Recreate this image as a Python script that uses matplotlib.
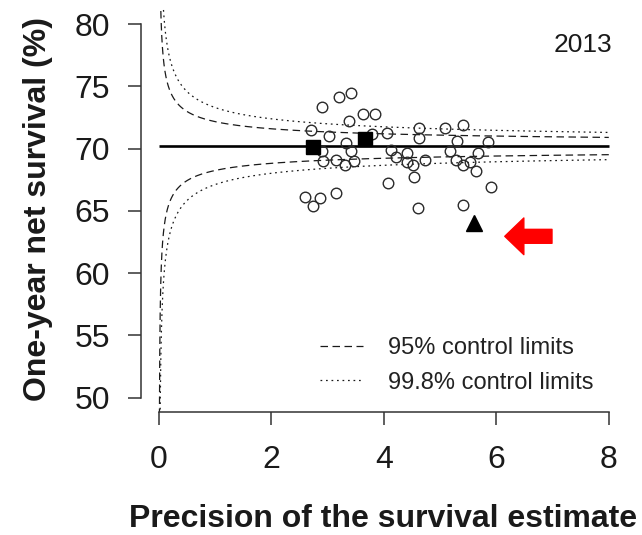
import matplotlib
matplotlib.use('Agg')
import matplotlib.pyplot as plt
import numpy as np

plt.rcParams['font.family'] = ['Liberation Sans', 'DejaVu Sans']

# open circles: precision vs one-year net survival (%)
precision = [2.71, 2.90, 3.03, 2.90, 2.91, 3.15, 3.21, 3.41, 3.38, 3.33, 3.41,
             3.30, 3.46, 3.62, 3.84, 3.79, 4.06, 4.12, 4.22, 4.41, 4.41, 4.51,
             4.73, 4.63, 4.62, 4.08, 4.54, 4.60, 5.09, 5.17, 5.30, 5.28, 5.41,
             5.41, 5.54, 5.68, 5.63, 5.85, 5.90, 5.41, 2.59, 2.74, 2.87, 3.14]
survival = [71.48, 73.33, 71.00, 69.80, 68.96, 69.04, 74.17, 74.50, 72.22, 70.45,
            69.78, 68.64, 68.97, 72.80, 72.80, 71.14, 71.26, 69.85, 69.31, 69.66,
            68.92, 68.70, 69.04, 71.63, 70.86, 67.21, 67.69, 65.26, 71.63, 69.78,
            70.60, 69.06, 71.90, 68.70, 68.94, 69.66, 68.20, 70.55, 66.95, 65.49,
            66.11, 65.35, 66.02, 66.45]

# highlighted units
square_x = [2.74, 3.67]
square_y = [70.15, 70.75]
triangle_x = [5.60]
triangle_y = [64.0]

target = 70.2
z95 = 1.96
z998 = 3.09

xticks = [0, 2, 4, 6, 8]
yticks = [50, 55, 60, 65, 70, 75, 80]

fig = plt.figure(figsize=(6.42, 5.35), dpi=100)
ax = fig.add_axes([0.2196, 0.229, 0.7567, 0.754])

grid = np.geomspace(0.003, xticks[-1], 3000)
ink = '#1a1a1a'

l95, = ax.plot(grid, target + z95 / np.sqrt(grid), color=ink, lw=0.9,
               linestyle=(0, (6, 3.6)), label='95% control limits')
ax.plot(grid, target - z95 / np.sqrt(grid), color=ink, lw=0.9,
        linestyle=(0, (6, 3.6)))
l998, = ax.plot(grid, target + z998 / np.sqrt(grid), color=ink, lw=0.9,
                linestyle=(0, (1.4, 3)), label='99.8% control limits')
ax.plot(grid, target - z998 / np.sqrt(grid), color=ink, lw=0.9,
        linestyle=(0, (1.4, 3)))

ax.hlines(target, xticks[0], xticks[-1], color='black', lw=1.9, zorder=3)

ax.plot(precision, survival, 'o', ms=7.6, mfc='none', mec='#2a2a2a', mew=1.0, zorder=4)
ax.plot(square_x, square_y, 's', ms=9.5, color='black', zorder=5)
ax.plot(triangle_x, triangle_y, '^', ms=11, color='black', zorder=5)

# red arrow pointing at the outlier
ax.annotate('', xy=(6.15, 62.95), xytext=(6.99, 62.95),
            arrowprops=dict(arrowstyle='simple,head_length=0.52,head_width=1.0,tail_width=0.38',
                            color='red', mutation_scale=26.4, shrinkA=0, shrinkB=0))

ax.text(8.07, 78.34, '2013', ha='right', va='center', fontsize=19, color=ink)

ax.set_xlim(-0.32, 8.32)
ax.set_ylim(48.8, 81.2)
ax.set_xticks(xticks)
ax.set_yticks(yticks)
for s in ['top', 'right']:
    ax.spines[s].set_visible(False)
ax.spines['left'].set_bounds(50, 80)
ax.spines['bottom'].set_bounds(0, 8)
for s in ['left', 'bottom']:
    ax.spines[s].set_linewidth(1.1)
    ax.spines[s].set_color('#333333')
ax.tick_params(axis='both', direction='out', length=9.4, width=1.1,
               color='#333333', labelsize=23, labelcolor=ink)
ax.tick_params(axis='x', pad=14)
ax.tick_params(axis='y', pad=13)

fig.text(38 / 642, 0.5 * (1 - 13 / 535 + 1 - 406 / 535), 'One-year net survival (%)',
         rotation=90, ha='center', va='center', fontsize=23, fontweight='bold', color=ink)
fig.text(383.5 / 642, 1 - 527 / 535, 'Precision of the survival estimate',
         ha='center', va='baseline', fontsize=23, fontweight='bold', color=ink)

ax.legend(handles=[l95, l998], loc='upper left',
          bbox_to_anchor=(320 / 642, 1 - 337 / 535), bbox_transform=fig.transFigure,
          frameon=False, fontsize=17, handlelength=1.82, handletextpad=1.06,
          labelspacing=0.53, borderpad=0, borderaxespad=0, labelcolor='#222222')

fig.savefig('out.png', dpi=100)
